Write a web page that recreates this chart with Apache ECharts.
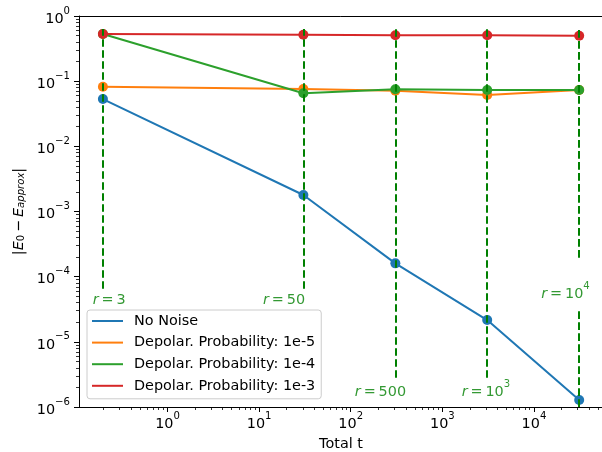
<!DOCTYPE html>
<html>
<head>
<meta charset="utf-8">
<script src="https://cdn.jsdelivr.net/npm/echarts@6/dist/echarts.min.js"></script>
<style>
  html, body { margin: 0; padding: 0; background: #fff; }
  #chart { width: 602px; height: 452px; }
</style>
</head>
<body>
<div id="chart"></div>
<script>
// data (log-log)
var totalT = [0.197, 30.4, 307, 3090, 31200];
var noNoise = [0.0532, 1.79e-3, 1.6e-4, 2.16e-5, 1.28e-6];
var depol1e5 = [0.0822, 0.0759, 0.0714, 0.0613, 0.073];
var depol1e4 = [0.53, 0.0652, 0.075, 0.0734, 0.0734];
var depol1e3 = [0.529, 0.517, 0.506, 0.506, 0.499];
var seriesNames = ['No Noise', 'Depolar. Probability: 1e-5', 'Depolar. Probability: 1e-4', 'Depolar. Probability: 1e-3'];

// r markers: dashed vertical segments [t, from, to] and their labels
var rSegments = [
    [0.197, 0.63, 6.5e-5],
    [30.4, 0.63, 6.5e-5],
    [307, 0.63, 2.8e-6],
    [3090, 0.63, 2.8e-6],
    [31200, 0.63, 1.95e-4],
    [31200, 3.08e-5, 1e-6]
];
var rLabels = ['3', '50', '500', '10^3', '10^4'];
var rLabelT = [0.231, 18.7, 211, 2990, 22100];
var rLabelE = [4.75e-5, 4.75e-5, 1.87e-6, 1.87e-6, 5.87e-5];

var xRange = [0.108, 56750];
var yRange = [1e-6, 1];
var xDecades = [0, 1, 2, 3, 4];
var yDecades = [-6, -5, -4, -3, -2, -1, 0];

var lg = function (v) { return Math.log10(v); };
var colors = ['#1f77b4', '#ff7f0e', '#2ca02c', '#d62728'];
var FONT = 'DejaVu Sans';
var FS = 14.4, FS_SMALL = 10.1;

function minorTicks(lo, hi) {
    var out = [];
    for (var n = Math.floor(lo) - 1; n <= Math.ceil(hi); n++) {
        for (var k = 2; k <= 9; k++) {
            var v = n + Math.log10(k);
            if (v > lo && v < hi) out.push(v);
        }
    }
    return out;
}

function powLabel(val) {
    var n = Math.round(val);
    return '{b|10}{s|' + String(n).replace('-', '\u2212') + '}';
}

var powRich = {
    b: { fontSize: FS, fontFamily: FONT, color: '#000', lineHeight: 20, verticalAlign: 'bottom' },
    s: { fontSize: FS_SMALL, fontFamily: FONT, color: '#000', lineHeight: 11, verticalAlign: 'top' }
};

var xlo = lg(xRange[0]), xhi = lg(xRange[1]);
var ylo = lg(yRange[0]), yhi = lg(yRange[1]);

var lineData = [noNoise, depol1e5, depol1e4, depol1e3];
var series = lineData.map(function (vals, i) {
    return {
        name: seriesNames[i],
        type: 'line',
        xAxisIndex: 0,
        yAxisIndex: 0,
        data: totalT.map(function (t, j) { return [lg(t), lg(vals[j])]; }),
        symbol: 'circle',
        symbolSize: 10,
        showSymbol: true,
        color: colors[i],
        lineStyle: { width: 2, color: colors[i] },
        itemStyle: { color: colors[i] },
        z: 2 + i
    };
});

series.push({
    type: 'lines',
    coordinateSystem: 'cartesian2d',
    xAxisIndex: 0,
    yAxisIndex: 0,
    silent: true,
    z: 20,
    lineStyle: { color: '#008000', width: 2, type: [7.7, 3.3], opacity: 1 },
    data: rSegments.map(function (s) {
        return { coords: [[lg(s[0]), lg(s[2])], [lg(s[0]), lg(s[1])]] };
    })
});

var labelRich = {
    i: { fontSize: FS, fontFamily: FONT, fontStyle: 'italic', color: '#008000', lineHeight: 20, verticalAlign: 'bottom' },
    n: { fontSize: FS, fontFamily: FONT, color: '#008000', lineHeight: 20, verticalAlign: 'bottom' },
    s: { fontSize: FS_SMALL, fontFamily: FONT, color: '#008000', lineHeight: 11, verticalAlign: 'top' }
};

series.push({
    type: 'scatter',
    xAxisIndex: 0,
    yAxisIndex: 0,
    silent: true,
    z: 21,
    symbol: 'circle',
    symbolSize: 2,
    itemStyle: { color: 'rgba(255,255,255,0)' },
    labelLayout: { hideOverlap: false },
    data: rLabelT.map(function (t, i) { return [lg(t), lg(rLabelE[i])]; }),
    label: {
        show: true,
        position: 'inside',
        color: '#008000',
        formatter: function (p) {
            var txt = rLabels[p.dataIndex];
            var parts = txt.split('^');
            var s = '{i|r}{n|\u2009=\u2009' + parts[0] + '}';
            if (parts.length > 1) s += '{s|' + parts[1] + '}';
            return s;
        },
        rich: labelRich
    }
});

var chart = echarts.init(document.getElementById('chart'), null, { renderer: 'canvas' });
chart.setOption({
    animation: false,
    backgroundColor: '#fff',
    textStyle: { fontFamily: FONT },
    grid: { left: 79, top: 16, width: 524, height: 391, containLabel: false, outerBoundsMode: 'none' },
    legend: {
        orient: 'vertical',
        left: 87,
        top: 310,
        data: seriesNames,
        icon: 'rect',
        itemWidth: 31,
        itemHeight: 2,
        itemGap: 5.6,
        padding: [3, 6, 5, 5],
        backgroundColor: 'rgba(255,255,255,0.8)',
        borderColor: '#cccccc',
        borderWidth: 1,
        borderRadius: 3,
        selectedMode: false,
        textStyle: { fontSize: FS, fontFamily: FONT, color: '#000', lineHeight: 16, padding: [0, 0, 0, 6] }
    },
    xAxis: [
        {
            type: 'value', position: 'bottom', min: xlo, max: xhi,
            name: 'Total t', nameLocation: 'middle', nameGap: 30,
            nameTextStyle: { fontSize: FS, fontFamily: FONT, color: '#000' },
            axisLine: { show: true, onZero: false, lineStyle: { color: '#000', width: 1 } },
            axisTick: { show: true, customValues: xDecades, length: 5, lineStyle: { color: '#000', width: 1 } },
            axisLabel: { show: true, customValues: xDecades, margin: 4, formatter: powLabel, rich: powRich },
            splitLine: { show: false }
        },
        {
            type: 'value', position: 'bottom', min: xlo, max: xhi,
            axisLine: { show: false, onZero: false },
            axisTick: { show: true, customValues: minorTicks(xlo, xhi), length: 3, lineStyle: { color: '#000', width: 0.8 } },
            axisLabel: { show: false },
            splitLine: { show: false }
        },
        {
            type: 'value', position: 'top', min: xlo, max: xhi,
            axisLine: { show: true, onZero: false, lineStyle: { color: '#000', width: 1 } },
            axisTick: { show: false },
            axisLabel: { show: false },
            splitLine: { show: false }
        }
    ],
    yAxis: [
        {
            type: 'value', position: 'left', min: ylo, max: yhi,
            name: '{v||}{i|E}{sub|0}{v|\u2009\u2212\u2009}{i|E}{isub|approx}{v||}',
            nameLocation: 'middle', nameGap: 53, nameRotate: 90,
            nameTextStyle: {
                rich: {
                    v: { fontSize: FS, fontFamily: FONT, color: '#000', lineHeight: 20, verticalAlign: 'bottom' },
                    i: { fontSize: FS, fontFamily: FONT, fontStyle: 'italic', color: '#000', lineHeight: 20, verticalAlign: 'bottom' },
                    sub: { fontSize: FS_SMALL, fontFamily: FONT, color: '#000', lineHeight: 11, verticalAlign: 'bottom' },
                    isub: { fontSize: FS_SMALL, fontFamily: FONT, fontStyle: 'italic', color: '#000', lineHeight: 11, verticalAlign: 'bottom' }
                }
            },
            axisLine: { show: true, onZero: false, lineStyle: { color: '#000', width: 1 } },
            axisTick: { show: true, customValues: yDecades, length: 5, lineStyle: { color: '#000', width: 1 } },
            axisLabel: { show: true, customValues: yDecades, margin: 9, formatter: powLabel, rich: powRich },
            splitLine: { show: false }
        },
        {
            type: 'value', position: 'left', min: ylo, max: yhi,
            axisLine: { show: false, onZero: false },
            axisTick: { show: true, customValues: minorTicks(ylo, yhi), length: 3, lineStyle: { color: '#000', width: 0.8 } },
            axisLabel: { show: false },
            splitLine: { show: false }
        }
    ],
    series: series
});
</script>
</body>
</html>
